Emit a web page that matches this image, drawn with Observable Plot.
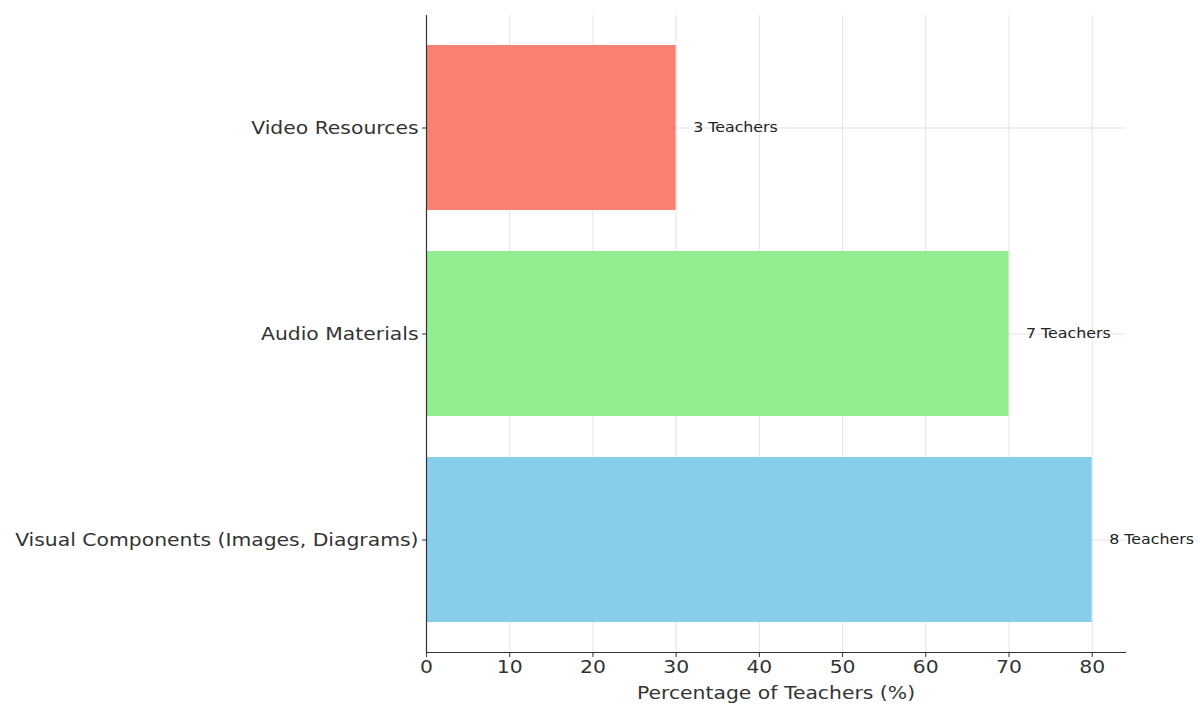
<!DOCTYPE html>
<html>
<head>
<meta charset="utf-8">
<script src="https://cdn.jsdelivr.net/npm/d3@7"></script>
<script src="https://cdn.jsdelivr.net/npm/@observablehq/plot@0.6"></script>
<style>
  html, body { margin: 0; padding: 0; background: #fff; }
  #chart svg { display: block; }
</style>
</head>
<body>
<div id="chart"></div>
<script>
const categories = ["Video Resources", "Audio Materials", "Visual Components (Images, Diagrams)"];
const percentages = [30, 70, 80];
const teacherCounts = [3, 7, 8];
const barColors = ["#FA8072", "#90EE90", "#87CEEB"];
const xTicks = [0, 10, 20, 30, 40, 50, 60, 70, 80];

const data = categories.map((c, i) => ({category: c, pct: percentages[i], teachers: teacherCounts[i], color: barColors[i]}));

const chart = Plot.plot({
  width: 1198,
  height: 704,
  marginLeft: 426,
  marginRight: 73,
  marginTop: 15,
  marginBottom: 52,
  style: {fontFamily: "DejaVu Sans", fontSize: "18px", color: "#333", background: "#fff"},
  x: {domain: [0, 84]},
  y: {domain: categories, paddingInner: 0.2, paddingOuter: 0.14},
  marks: [
    Plot.gridX(xTicks, {stroke: "#b0b0b0", strokeOpacity: 0.35}),
    Plot.gridY(categories, {stroke: "#b0b0b0", strokeOpacity: 0.35, x1: 0, x2: 84}),
    Plot.barX(data, {x: "pct", y: "category", fill: "color"}),
    Plot.text(data, {x: "pct", y: "category", text: d => `${d.teachers} Teachers`, dx: 17, textAnchor: "start", fontSize: 14, fill: "#222"}),
    Plot.ruleX([0], {stroke: "#333", strokeWidth: 1.2}),
    Plot.frame({anchor: "bottom", stroke: "#333", strokeWidth: 1.2}),
    Plot.axisX({ticks: xTicks, tickSize: 5, tickPadding: 3, fontSize: 18, fill: "#333", label: "Percentage of Teachers (%)", labelAnchor: "center", labelArrow: "none", labelOffset: 46}),
    Plot.axisY({tickSize: 4, tickPadding: 4, fontSize: 18, fill: "#333", label: null})
  ]
});
document.getElementById("chart").appendChild(chart);

// widen glyphs horizontally via textLength, keeping positions and anchors
const sx = 1.13;
chart.querySelectorAll("text").forEach(t => {
  const len = t.getComputedTextLength();
  if (len > 0) {
    t.setAttribute("textLength", (len * sx).toFixed(2));
    t.setAttribute("lengthAdjust", "spacingAndGlyphs");
  }
});
</script>
</body>
</html>
